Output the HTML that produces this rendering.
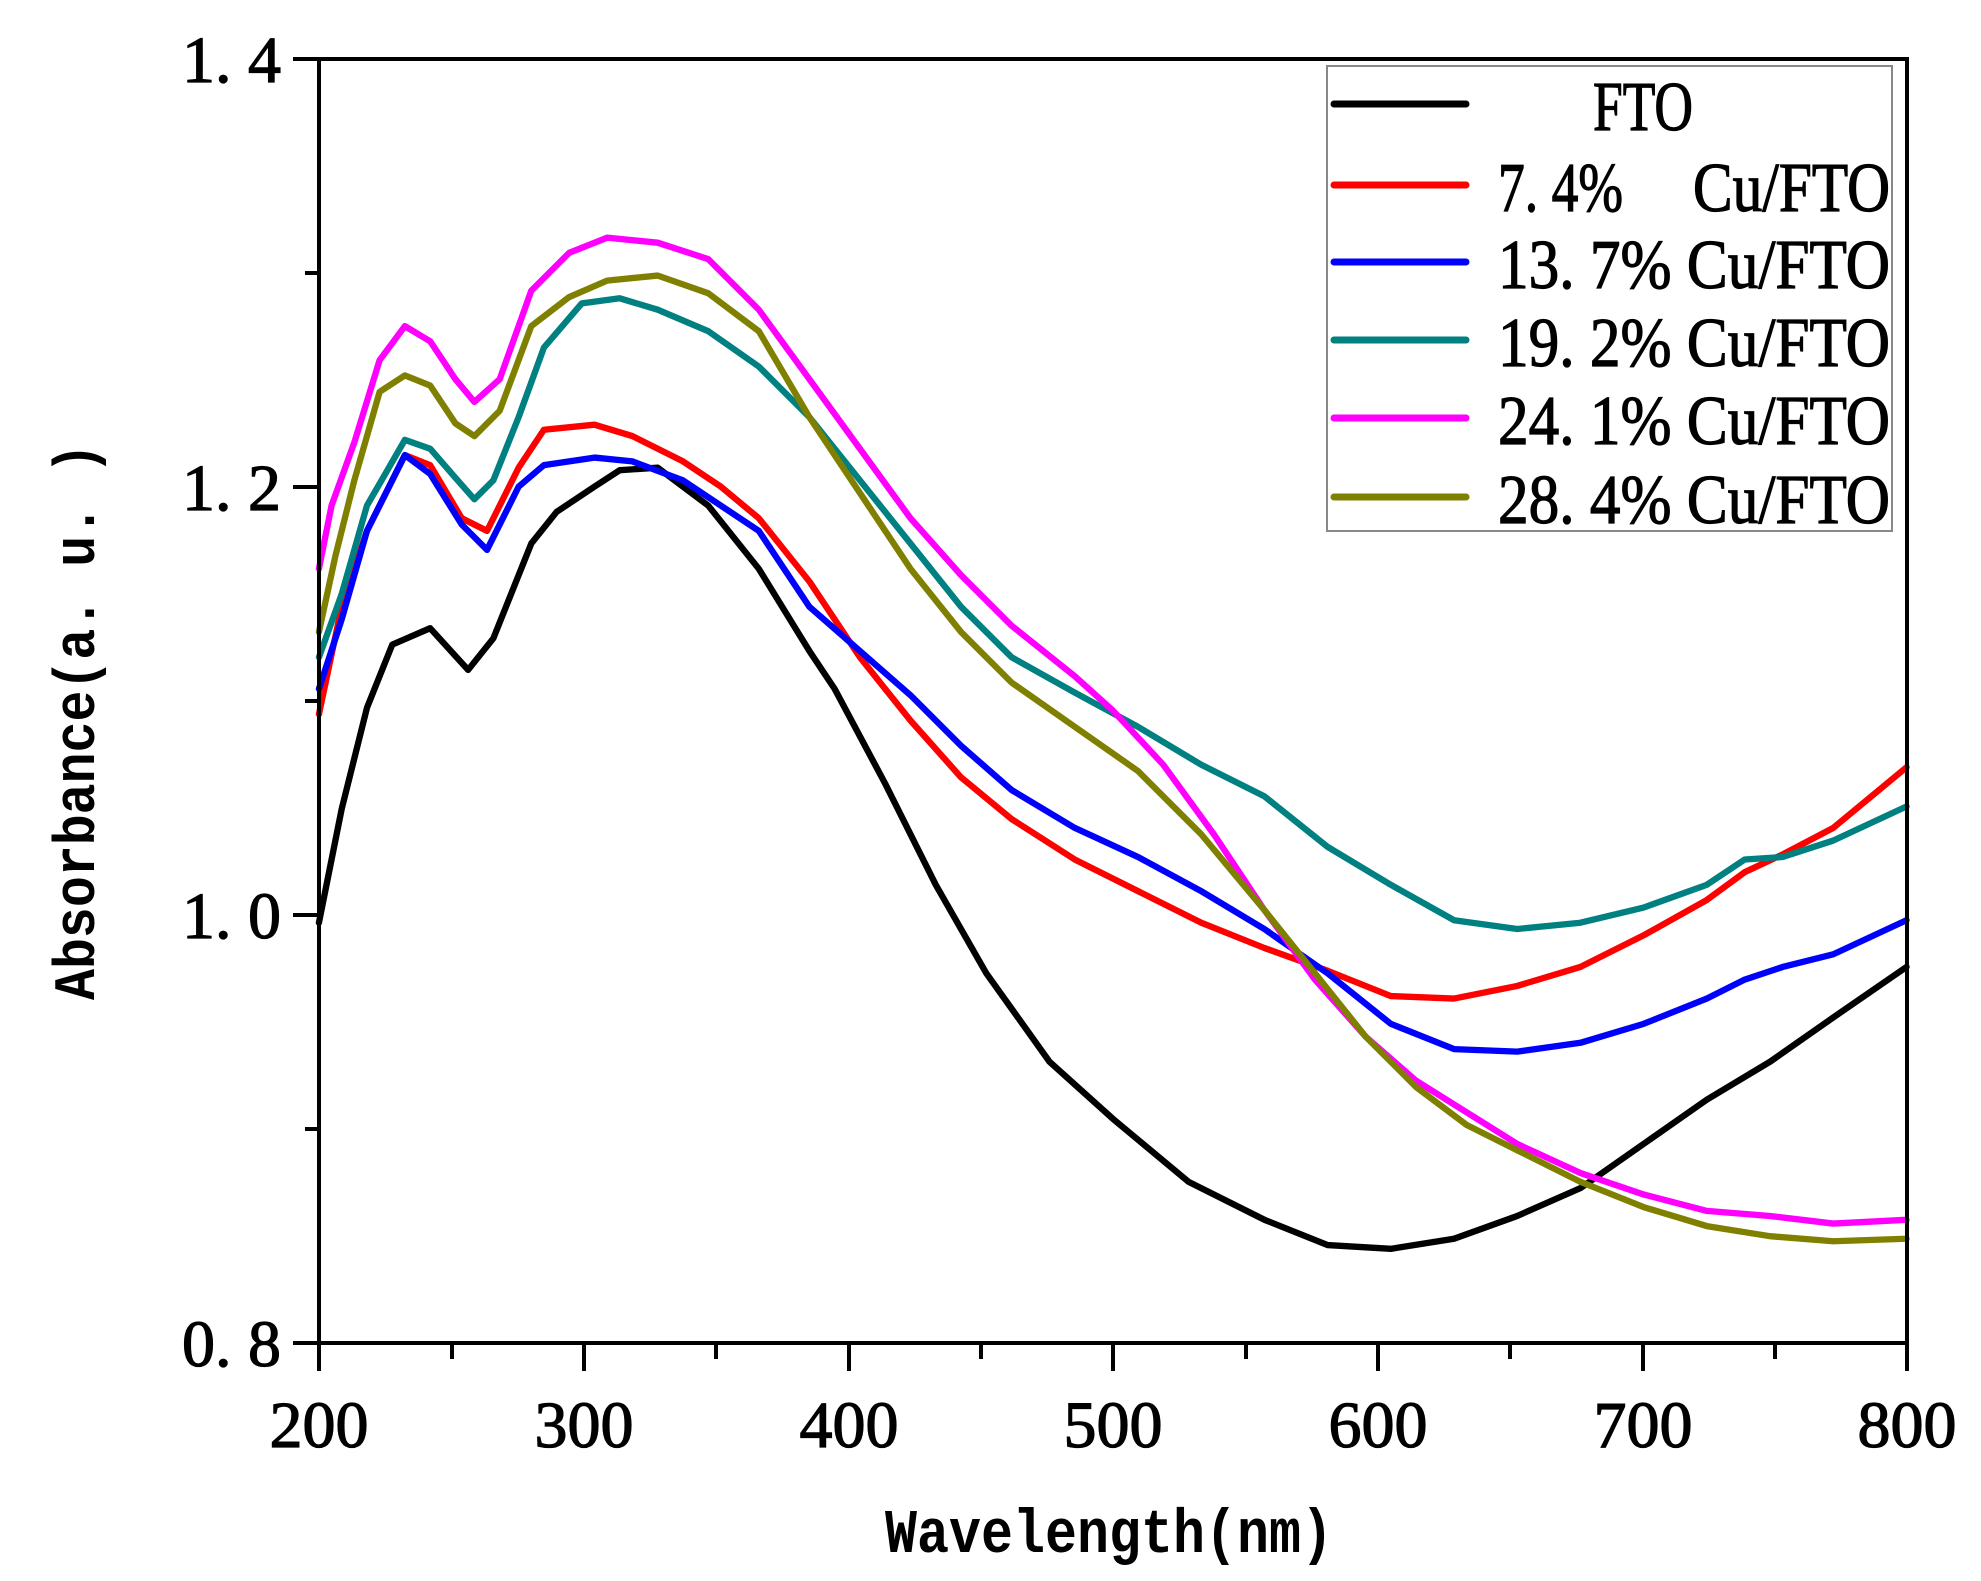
<!DOCTYPE html>
<html><head><meta charset="utf-8"><style>html,body{margin:0;padding:0;background:#fff}svg{display:block}</style></head>
<body>
<svg width="1981" height="1581" viewBox="0 0 1981 1581" xmlns="http://www.w3.org/2000/svg">
<rect width="1981" height="1581" fill="#fff"/>
<g transform="translate(0.4,0) scale(1.264)" fill="none" stroke-width="5" stroke-linejoin="round" stroke-linecap="round">
<polyline stroke="#000" points="252,730 270,640 290,560 310,510 340,497 370,530 390,505 420,430 440,405 470,385 490,372 520,370 560,400 600,450 640,515 660,545 700,620 740,700 780,770 830,840 880,885 940,935 1000,965 1050,985 1100,988 1150,980 1200,962 1250,940 1300,905 1350,870 1400,840 1450,805 1508,765"/>
<polyline stroke="#ff0000" points="252,565 270,480 290,420 320,360 340,368 365,410 385,420 410,370 430,340 470,336 500,345 540,365 570,385 600,410 640,460 680,520 720,570 760,615 800,648 850,680 900,705 950,730 1000,750 1050,768 1100,788 1150,790 1200,780 1250,765 1300,740 1350,712 1380,690 1410,676 1450,655 1508,607"/>
<polyline stroke="#0000ff" points="252,545 270,490 290,420 320,360 340,375 365,415 385,435 410,385 430,368 470,362 500,365 540,380 570,400 600,420 640,480 680,515 720,550 760,590 800,625 850,655 900,678 950,705 1000,735 1050,770 1100,810 1150,830 1200,832 1250,825 1300,810 1350,790 1380,775 1410,765 1450,755 1508,728"/>
<polyline stroke="#008080" points="252,520 270,470 290,400 320,348 340,355 360,378 375,395 390,380 410,330 430,275 460,240 490,236 520,245 560,262 600,290 640,330 680,380 720,430 760,480 800,520 850,548 900,575 950,605 1000,630 1050,670 1100,700 1150,728 1200,735 1250,730 1300,718 1350,700 1380,680 1410,678 1450,665 1508,638"/>
<polyline stroke="#ff00ff" points="252,450 262,400 280,350 300,285 320,258 340,270 360,300 375,318 395,300 420,230 450,200 480,188 520,192 560,205 600,245 640,300 680,355 720,410 760,455 800,495 850,535 880,562 920,605 960,660 1000,720 1040,775 1080,820 1120,855 1160,880 1200,905 1250,928 1300,945 1350,958 1400,962 1450,968 1508,965"/>
<polyline stroke="#808000" points="252,500 265,440 280,380 300,310 320,297 340,305 360,335 375,345 395,325 420,258 450,235 480,222 520,218 560,232 600,262 640,330 680,390 720,450 760,500 800,540 850,575 900,610 950,660 1000,720 1040,770 1080,820 1120,860 1160,890 1200,910 1250,935 1300,955 1350,970 1400,978 1450,982 1508,980"/>
</g>
<rect x="319" y="59" width="1588" height="1284" fill="none" stroke="#000" stroke-width="4"/>
<g stroke="#000" stroke-width="4">
<line x1="319" y1="1343" x2="319" y2="1371"/><line x1="584" y1="1343" x2="584" y2="1371"/><line x1="849" y1="1343" x2="849" y2="1371"/><line x1="1113" y1="1343" x2="1113" y2="1371"/><line x1="1378" y1="1343" x2="1378" y2="1371"/><line x1="1643" y1="1343" x2="1643" y2="1371"/><line x1="1907" y1="1343" x2="1907" y2="1371"/>
<line x1="452" y1="1343" x2="452" y2="1359"/><line x1="716" y1="1343" x2="716" y2="1359"/><line x1="981" y1="1343" x2="981" y2="1359"/><line x1="1246" y1="1343" x2="1246" y2="1359"/><line x1="1510" y1="1343" x2="1510" y2="1359"/><line x1="1775" y1="1343" x2="1775" y2="1359"/>
<line x1="293" y1="59" x2="319" y2="59"/><line x1="293" y1="487" x2="319" y2="487"/><line x1="293" y1="915" x2="319" y2="915"/><line x1="293" y1="1343" x2="319" y2="1343"/>
<line x1="305" y1="273" x2="319" y2="273"/><line x1="305" y1="701" x2="319" y2="701"/><line x1="305" y1="1129" x2="319" y2="1129"/>
</g>
<g font-family="'Liberation Serif', serif" font-size="66" fill="#000" stroke="#000" stroke-width="1.2" text-anchor="middle">
<text x="319" y="1447">200</text><text x="584" y="1447">300</text><text x="849" y="1447">400</text><text x="1113" y="1447">500</text><text x="1378" y="1447">600</text><text x="1643" y="1447">700</text><text x="1907" y="1447">800</text>
</g>
<g font-family="'Liberation Serif', serif" font-size="66" fill="#000" stroke="#000" stroke-width="1.2" text-anchor="end">
<text x="281" y="82">1. 4</text><text x="281" y="510">1. 2</text><text x="281" y="938">1. 0</text><text x="281" y="1366">0. 8</text>
</g>
<text x="885" y="1552" font-family="'Liberation Mono', monospace" font-weight="bold" font-size="62" textLength="448" lengthAdjust="spacingAndGlyphs">Wavelength(nm)</text>
<text transform="translate(94,1000) rotate(-90)" font-family="'Liberation Mono', monospace" font-weight="bold" font-size="58" textLength="557" lengthAdjust="spacingAndGlyphs">Absorbance(a. u. )</text>
<rect x="1327" y="66" width="565" height="465" fill="#fff" stroke="#888" stroke-width="2"/>
<g stroke-width="7" stroke-linecap="round">
<line x1="1334" y1="104" x2="1466" y2="104" stroke="#000"/>
<line x1="1334" y1="185" x2="1466" y2="185" stroke="#ff0000"/>
<line x1="1334" y1="262" x2="1466" y2="262" stroke="#0000ff"/>
<line x1="1334" y1="340" x2="1466" y2="340" stroke="#008080"/>
<line x1="1334" y1="418" x2="1466" y2="418" stroke="#ff00ff"/>
<line x1="1334" y1="497" x2="1466" y2="497" stroke="#808000"/>
</g>
<g font-family="'Liberation Serif', serif" font-size="70" fill="#000" stroke="#000" stroke-width="1.2">
<text x="1593" y="130" textLength="100" lengthAdjust="spacingAndGlyphs">FTO</text>
<text x="1498" y="211" textLength="125" lengthAdjust="spacingAndGlyphs">7. 4%</text>
<text x="1693" y="211" textLength="197" lengthAdjust="spacingAndGlyphs">Cu/FTO</text>
<text x="1498" y="288" textLength="392" lengthAdjust="spacingAndGlyphs">13. 7% Cu/FTO</text>
<text x="1498" y="366" textLength="392" lengthAdjust="spacingAndGlyphs">19. 2% Cu/FTO</text>
<text x="1498" y="444" textLength="392" lengthAdjust="spacingAndGlyphs">24. 1% Cu/FTO</text>
<text x="1498" y="523" textLength="392" lengthAdjust="spacingAndGlyphs">28. 4% Cu/FTO</text>
</g>
</svg>
</body></html>
